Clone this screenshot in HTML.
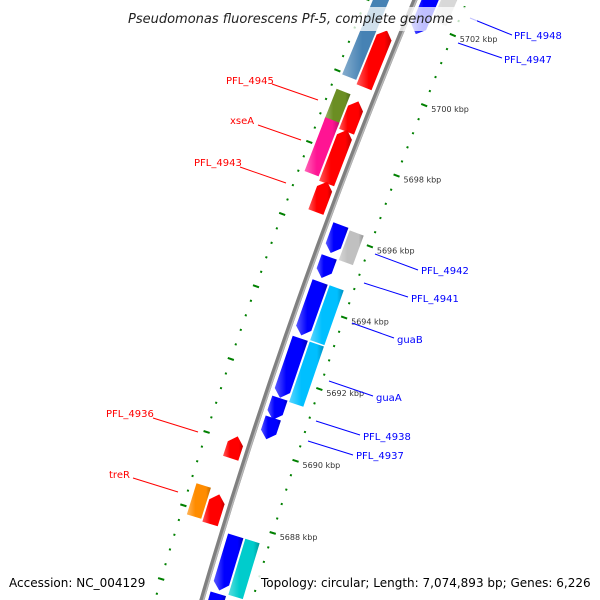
<!DOCTYPE html>
<html><head><meta charset="utf-8"><style>
html,body{margin:0;padding:0;background:#fff;width:600px;height:600px;overflow:hidden;}
svg{display:block;font-family:"DejaVu Sans","Liberation Sans",sans-serif;}
</style></head><body>
<svg id="chart" width="600" height="600" viewBox="0 0 600 600" xmlns="http://www.w3.org/2000/svg" overflow="hidden">
<defs>
<linearGradient id="shade" x1="0" y1="0" x2="1" y2="0">
<stop offset="0" stop-color="#fff" stop-opacity="0.35"/>
<stop offset="0.35" stop-color="#fff" stop-opacity="0"/>
<stop offset="0.8" stop-color="#000" stop-opacity="0"/>
<stop offset="1" stop-color="#000" stop-opacity="0.25"/>
</linearGradient>
<clipPath id="frame"><rect x="0" y="0" width="600" height="600"/></clipPath>
</defs>
<g clip-path="url(#frame)">
<g id="rings"></g>
<g id="backbone"></g>
<g id="genes"></g>
<g id="labels"></g>
</g>
<rect x="125" y="7" width="352" height="24" fill="#fff" fill-opacity="0.75"/>
<text x="128" y="23" font-size="13" font-style="italic" fill="#222">Pseudomonas fluorescens Pf-5, complete genome</text>
<rect x="5" y="572" width="142" height="18" fill="#fff" fill-opacity="0.85"/>
<text x="9" y="587" font-size="12" fill="#000">Accession: NC_004129</text>
<rect x="257" y="572" width="338" height="18" fill="#fff" fill-opacity="0.85"/>
<text x="261" y="587" font-size="12" fill="#000">Topology: circular; Length: 7,074,893 bp; Genes: 6,226</text>
</svg>
<script>
// gene data (kbp)
const geneStart = [5699.95,5699.85,5698.65,5698.6,5697.25,5697.15,5696.35,5701.65,5702.15,5695.48,5695.38,5694.78,5693.18,5693.14,5691.45,5691.42,5690.84,5690.3,5689.54,5687.8,5687.74,5686.14,5686.1,5685.0,5685.0];
const geneEnd   = [5702.9,5701.45,5699.55,5699.45,5698.75,5698.65,5697.2,5703.2,5703.2,5696.26,5696.21,5695.37,5694.67,5694.67,5693.1,5693.1,5691.44,5690.89,5690.14,5688.65,5688.55,5687.64,5687.64,5686.05,5685.95];
const geneLane  = [2,1,2,1,2,1,1,-1,-2,-1,-2,-1,-1,-2,-1,-2,-1,-1,1,2,1,-1,-2,-1,-2];
const geneArrow = [0,1,0,1,0,1,1,-1,0,-1,0,-1,-1,0,-1,0,-1,-1,1,0,1,-1,0,-1,0];
const geneColor = ["#4682b4","#ff0000","#6b8e23","#ff0000","#ff1493","#ff0000","#ff0000","#0000ff","#d8d8d8","#0000ff","#c0c0c0","#0000ff","#0000ff","#00bfff","#0000ff","#00bfff","#0000ff","#0000ff","#ff0000","#ff8c00","#ff0000","#0000ff","#00cccc","#0000ff","#00cccc"];
// tick labels
const tickKbp = [5702,5700,5698,5696,5694,5692,5690,5688];
const tickLabels = ["5702 kbp","5700 kbp","5698 kbp","5696 kbp","5694 kbp","5692 kbp","5690 kbp","5688 kbp"];
// annotation labels
const labelText = ["PFL_4945","xseA","PFL_4943","PFL_4936","treR","PFL_4948","PFL_4947","PFL_4942","PFL_4941","guaB","guaA","PFL_4938","PFL_4937"];
const labelSide = [1,1,1,1,1,-1,-1,-1,-1,-1,-1,-1,-1];
const labelPos = [[226,84,272,84,318,100],[230,124,258,125,301,140],[194,166,240,167,286,183],[106,417,153,418,198,432],[109,478,133,478,178,492],[514,39,512,35,470,18],[504,63,502,58,458,43],[421,274,418,270,375,254],[411,302,408,297,364,283],[397,343,394,338,352,323],[376,401,373,396,329,381],[363,440,360,435,316,421],[356,459,353,455,308,441]];

const NS="http://www.w3.org/2000/svg";
const CX=5637.6, CY=2191.8, R=5664;
function ang(k){return (200.27+(k-5696)*0.386)*Math.PI/180;}
function P(k,d){const a=ang(k),r=R+d;return [CX+r*Math.cos(a),CY+r*Math.sin(a)];}
function mk(tag,attrs,parent){const e=document.createElementNS(NS,tag);for(const a in attrs)e.setAttribute(a,attrs[a]);parent.appendChild(e);return e;}
const gR=document.getElementById('rings'),gB=document.getElementById('backbone'),gG=document.getElementById('genes'),gL=document.getElementById('labels');

// rings
const ringD=[-48.5,45];
for(const d of ringD){
  for(let i=0;i<=47;i++){
    const k=5684.4+i*0.4;
    const even=Math.abs(k/2-Math.round(k/2))<0.01;
    const len=even?3.2:1;
    const a=P(k,d-len),b=P(k,d+len);
    const l=mk('line',{x1:a[0],y1:a[1],x2:b[0],y2:b[1],stroke:'#008000','stroke-width':2},gR);
    
    
  }
}
tickKbp.forEach((k,i)=>{
  const p=P(k,-48.5);
  const t=mk('text',{x:p[0]+7,y:p[1]+7,'font-size':8,fill:'#333'},gR);
  t.textContent=tickLabels[i];
  
  
});

// backbone
function arc(d){let s='';for(let k=5684.5;k<=5703.5;k+=0.5){const p=P(k,d);s+=(s?'L':'M')+p[0].toFixed(1)+','+p[1].toFixed(1);}return s;}
let bb=mk('path',{d:arc(0),stroke:'#808080','stroke-width':5,fill:'none'},gB);


let bh=mk('path',{d:arc(-1.5),stroke:'#b8b8b8','stroke-width':1.5,fill:'none'},gB);



// genes
const lanes={1:[6,22],2:[24,39],'-1':[-22,-6],'-2':[-39,-24]};
geneStart.forEach((s,i)=>{
  const e=geneEnd[i],ln=lanes[geneLane[i]],d0=ln[0],d1=ln[1],dm=(d0+d1)/2,h=0.2;
  let pts;
  if(geneArrow[i]===1){pts=[P(s,d0),P(e-h,d0),P(e,dm),P(e-h,d1),P(s,d1)];}
  else if(geneArrow[i]===-1){pts=[P(e,d0),P(s+h,d0),P(s,dm),P(s+h,d1),P(e,d1)];}
  else{pts=[P(s,d0),P(e,d0),P(e,d1),P(s,d1)];}
  const ps=pts.map(p=>p[0].toFixed(1)+','+p[1].toFixed(1)).join(' ');
  const g=mk('polygon',{points:ps,fill:geneColor[i]},gG);
  
  
  const o=mk('polygon',{points:ps,fill:'url(#shade)'},gG);
  
  
});

// labels
labelText.forEach((t,i)=>{
  const p=labelPos[i],c=labelSide[i]===1?'#ff0000':'#0000ff';
  const l=mk('line',{x1:p[2],y1:p[3],x2:p[4],y2:p[5],stroke:c,'stroke-width':1},gL);
  
  
  const tx=mk('text',{x:p[0],y:p[1],'font-size':10,fill:c},gL);
  tx.textContent=t;
  
  
});
</script>
</body></html>
